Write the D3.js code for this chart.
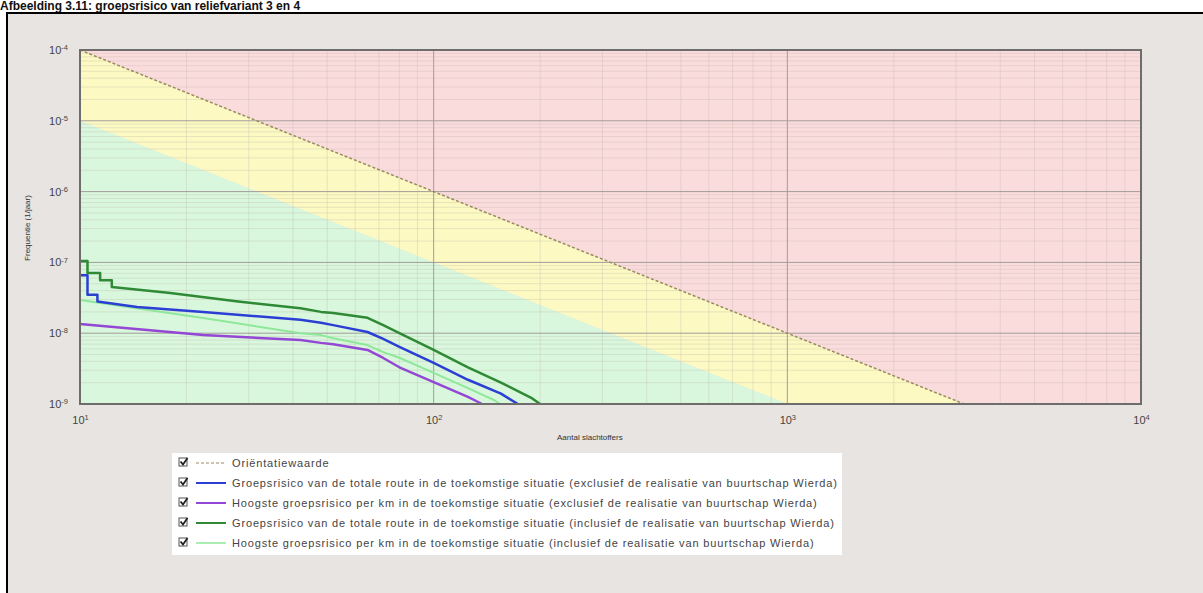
<!DOCTYPE html>
<html lang="nl">
<head>
<meta charset="utf-8">
<title>Groepsrisico</title>
<script src="https://d3js.org/d3.v7.min.js"></script>
<style>
  body { margin: 0; background: #fff; }
  svg { display: block; font-family: "Liberation Sans", Arial, sans-serif; }
</style>
</head>
<body>
<script>
// ---- data ----
var xTicks = [10, 100, 1000, 10000];
var yTicks = [1e-4, 1e-5, 1e-6, 1e-7, 1e-8, 1e-9];

// orientation value (dashed line) and lower edge of the yellow band
var orientN = [10, 3162];
var orientF = [1e-4, 1e-9];
var bandN = [10, 1000];
var bandF = [1e-5, 1e-9];

// total route, incl. Wierda (dark green)
var totInclN = [10, 10.5, 10.5, 11.4, 11.4, 12.3, 12.3, 18, 28, 42, 48, 52, 65, 72, 80, 100, 125, 155, 190, 200];
var totInclF = [1.05e-7, 1.05e-7, 7.1e-8, 7.1e-8, 5.6e-8, 5.6e-8, 4.5e-8, 3.7e-8, 2.8e-8, 2.25e-8, 2.0e-8, 1.93e-8, 1.65e-8, 1.3e-8, 1.0e-8, 5.8e-9, 3.3e-9, 2.0e-9, 1.2e-9, 1.0e-9];
// total route, excl. Wierda (blue)
var totExclN = [10, 10.5, 10.5, 11.2, 11.2, 14.5, 22.3, 42, 48, 52, 65, 72, 80, 100, 125, 155, 173];
var totExclF = [6.6e-8, 6.6e-8, 3.5e-8, 3.5e-8, 2.8e-8, 2.35e-8, 2.0e-8, 1.55e-8, 1.4e-8, 1.3e-8, 1.04e-8, 8.3e-9, 6.4e-9, 3.8e-9, 2.2e-9, 1.4e-9, 1e-9];
// highest per km, incl. Wierda (light green)
var kmInclN = [10, 22.3, 42, 48, 52, 65, 72, 80, 100, 125, 148, 154];
var kmInclF = [2.94e-8, 1.64e-8, 1.0e-8, 9.4e-9, 8.5e-9, 6.8e-9, 5.4e-9, 4.5e-9, 2.75e-9, 1.68e-9, 1.14e-9, 1e-9];
// highest per km, excl. Wierda (purple)
var kmExclN = [10, 22.3, 42, 48, 52, 65, 72, 80, 100, 125, 137];
var kmExclF = [1.35e-8, 9.4e-9, 8.0e-9, 7.3e-9, 7.0e-9, 5.8e-9, 4.47e-9, 3.3e-9, 2.04e-9, 1.26e-9, 1e-9];

var legendLabels = [
  "Oriëntatiewaarde",
  "Groepsrisico van de totale route in de toekomstige situatie (exclusief de realisatie van buurtschap Wierda)",
  "Hoogste groepsrisico per km in de toekomstige situatie (exclusief de realisatie van buurtschap Wierda)",
  "Groepsrisico van de totale route in de toekomstige situatie (inclusief de realisatie van buurtschap Wierda)",
  "Hoogste groepsrisico per km in de toekomstige situatie (inclusief de realisatie van buurtschap Wierda)"
];

var W = 1203, H = 593;
var plot = {left: 80, right: 1141, top: 50, bottom: 404};

var svg = d3.select("body").append("svg")
  .attr("width", W)
  .attr("height", H);

// title
svg.append("text")
  .attr("x", 0)
  .attr("y", 10)
  .attr("font-size", "12px")
  .attr("font-weight", "bold")
  .attr("fill", "#111")
  .text("Afbeelding 3.11: groepsrisico van reliefvariant 3 en 4");

// grey frame
svg.append("rect")
  .attr("x", 7).attr("y", 13)
  .attr("width", 1210).attr("height", 600)
  .attr("fill", "#e7e4e1")
  .attr("stroke", "#000")
  .attr("stroke-width", 2);

var x = d3.scaleLog().domain([10, 10000]).range([plot.left, plot.right]);
var y = d3.scaleLog().domain([1e-9, 1e-4]).range([plot.bottom, plot.top]);

var zip = function(a, b) { return a.map(function(d, i) { return [d, b[i]]; }); };
var line = d3.line()
  .x(function(d) { return x(d[0]); })
  .y(function(d) { return y(d[1]); });

var g = svg.append("g");

// background zones
var fTop = 1e-4, fBot = 1e-9, nMin = 10, nMax = 10000;
var zones = [
  {fill: "#fbdcdd", pts: [[orientN[0], orientF[0]], [nMax, fTop], [nMax, fBot], [orientN[1], orientF[1]]]},
  {fill: "#fcf9c2", pts: [[orientN[0], orientF[0]], [orientN[1], orientF[1]], [bandN[1], bandF[1]], [bandN[0], bandF[0]]]},
  {fill: "#d9f7dc", pts: [[bandN[0], bandF[0]], [bandN[1], bandF[1]], [nMin, fBot]]}
];
g.selectAll("path.zone")
  .data(zones)
  .enter().append("path")
  .attr("class", "zone")
  .attr("d", function(d) { return line(d.pts) + "Z"; })
  .attr("fill", function(d) { return d.fill; });

// minor grid
var minorX = [], minorY = [];
[10, 100, 1000].forEach(function(b) { for (var k = 2; k < 10; k++) minorX.push(b * k); });
[1e-9, 1e-8, 1e-7, 1e-6, 1e-5].forEach(function(b) { for (var k = 2; k < 10; k++) minorY.push(b * k); });

g.selectAll("line.minx").data(minorX).enter().append("line")
  .attr("x1", function(d) { return x(d); }).attr("x2", function(d) { return x(d); })
  .attr("y1", plot.top).attr("y2", plot.bottom)
  .attr("stroke", "#b9b2a8").attr("stroke-opacity", 0.3);
g.selectAll("line.miny").data(minorY).enter().append("line")
  .attr("y1", function(d) { return y(d); }).attr("y2", function(d) { return y(d); })
  .attr("x1", plot.left).attr("x2", plot.right)
  .attr("stroke", "#b9b2a8").attr("stroke-opacity", 0.3);

// major grid
g.selectAll("line.majx").data(xTicks).enter().append("line")
  .attr("x1", function(d) { return x(d); }).attr("x2", function(d) { return x(d); })
  .attr("y1", plot.top).attr("y2", plot.bottom)
  .attr("stroke", "#a39c9a");
g.selectAll("line.majy").data(yTicks).enter().append("line")
  .attr("y1", function(d) { return y(d); }).attr("y2", function(d) { return y(d); })
  .attr("x1", plot.left).attr("x2", plot.right)
  .attr("stroke", "#a39c9a");

// orientation value
g.append("path")
  .attr("d", line(zip(orientN, orientF)))
  .attr("fill", "none")
  .attr("stroke", "#9a8a60")
  .attr("stroke-width", 1.5)
  .attr("stroke-dasharray", "3,2");

// curves
var series = [
  {n: kmInclN, f: kmInclF, color: "#8ee89a", w: 2},
  {n: kmExclN, f: kmExclF, color: "#9447d4", w: 2.5},
  {n: totExclN, f: totExclF, color: "#2b3fd4", w: 2.5},
  {n: totInclN, f: totInclF, color: "#2e8a34", w: 2.5}
];
g.selectAll("path.curve")
  .data(series)
  .enter().append("path")
  .attr("class", "curve")
  .attr("d", function(d) { return line(zip(d.n, d.f)); })
  .attr("fill", "none")
  .attr("stroke", function(d) { return d.color; })
  .attr("stroke-width", function(d) { return d.w; })
  .attr("stroke-linejoin", "round");

// plot border
svg.append("rect")
  .attr("x", plot.left).attr("y", plot.top)
  .attr("width", plot.right - plot.left).attr("height", plot.bottom - plot.top)
  .attr("fill", "none")
  .attr("stroke", "#6f6d6b")
  .attr("stroke-width", 2);

// axes (labels as 10 with superscript exponent)
function sup(sel) {
  sel.each(function(d) {
    var t = d3.select(this);
    var e = Math.round(Math.log10(d));
    t.text(null);
    t.append("tspan").text("10");
    t.append("tspan").attr("dy", "-0.5em").attr("font-size", "7.5px").text(e);
  });
}

var yAxis = svg.append("g")
  .attr("transform", "translate(" + (plot.left - 12) + ",0)")
  .call(d3.axisLeft(y).tickValues(yTicks).tickSize(0).tickPadding(0));
yAxis.select(".domain").remove();
yAxis.selectAll("text")
  .attr("font-size", "11px")
  .attr("fill", "#444")
  .attr("font-family", "Liberation Sans, Arial, sans-serif")
  .call(sup);

var xAxis = svg.append("g")
  .attr("transform", "translate(0," + (plot.bottom + 12) + ")")
  .call(d3.axisBottom(x).tickValues(xTicks).tickSize(0).tickPadding(0));
xAxis.select(".domain").remove();
xAxis.selectAll("text")
  .attr("font-size", "11px")
  .attr("fill", "#444")
  .attr("font-family", "Liberation Sans, Arial, sans-serif")
  .call(sup);

// axis titles
svg.append("text")
  .attr("transform", "translate(30,228) rotate(-90)")
  .attr("text-anchor", "middle")
  .attr("font-size", "8px")
  .attr("fill", "#333")
  .text("Frequentie (1/jaar)");

svg.append("text")
  .attr("x", 557)
  .attr("y", 440)
  .attr("font-size", "8px")
  .attr("fill", "#333")
  .text("Aantal slachtoffers");

// legend
var legend = svg.append("g");
legend.append("rect")
  .attr("x", 172).attr("y", 453)
  .attr("width", 670).attr("height", 102)
  .attr("fill", "#fff");

var legendStyle = [
  {color: "#9a8a60", dash: "3,2", w: 1},
  {color: "#2b3fd4", dash: null, w: 2},
  {color: "#9447d4", dash: null, w: 2},
  {color: "#2e8a34", dash: null, w: 2},
  {color: "#8ee89a", dash: null, w: 1.5}
];

var rows = legend.selectAll("g.row")
  .data(legendLabels)
  .enter().append("g")
  .attr("class", "row")
  .attr("transform", function(d, i) { return "translate(0," + (463 + i * 20) + ")"; });

rows.append("rect")
  .attr("x", 179).attr("y", -5)
  .attr("width", 8).attr("height", 8)
  .attr("fill", "#fff")
  .attr("stroke", "#555");
rows.append("path")
  .attr("d", "M180.5,-1.5 L183,1.5 L187.5,-5")
  .attr("fill", "none")
  .attr("stroke", "#222")
  .attr("stroke-width", 1.8);
rows.append("line")
  .attr("x1", 196).attr("x2", 226)
  .attr("y1", 0).attr("y2", 0)
  .attr("stroke", function(d, i) { return legendStyle[i].color; })
  .attr("stroke-width", function(d, i) { return legendStyle[i].w; })
  .attr("stroke-dasharray", function(d, i) { return legendStyle[i].dash; });
rows.append("text")
  .attr("x", 232)
  .attr("y", 3.5)
  .attr("font-size", "11px")
  .attr("letter-spacing", "0.85px")
  .attr("fill", "#444")
  .text(function(d) { return d; });
</script>
</body>
</html>
